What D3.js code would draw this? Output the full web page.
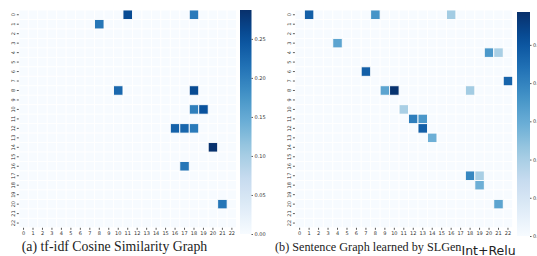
<!DOCTYPE html>
<html>
<head>
<meta charset="utf-8">
<script src="https://cdn.jsdelivr.net/npm/d3@7"></script>
<style>
  body { margin: 0; background: #fff; }
  svg { display: block; }
  .tick-label { font-family: "DejaVu Sans", sans-serif; font-size: 5px; fill: #333; }
  .caption { font-family: "Liberation Serif", serif; fill: #222; }
</style>
</head>
<body>
<div id="chart"></div>
<script>
// sentence indices 0..22 on both axes
const sentences = d3.range(23)

// [row, col, value] of the non-zero cells
const tfidfCells = [
  [0, 11, 0.258], [0, 18, 0.205], [1, 8, 0.21],
  [8, 10, 0.225], [8, 18, 0.258],
  [10, 18, 0.2], [10, 19, 0.25],
  [12, 16, 0.232], [12, 17, 0.228], [12, 18, 0.205],
  [14, 20, 0.285], [16, 17, 0.21], [20, 21, 0.21]
]
const slgenCells = [
  [0, 1, 0.48], [0, 8, 0.36], [0, 16, 0.21],
  [3, 4, 0.32], [4, 20, 0.35], [4, 21, 0.2],
  [6, 7, 0.48], [7, 22, 0.47],
  [8, 9, 0.32], [8, 10, 0.58], [8, 18, 0.21],
  [10, 11, 0.2], [11, 12, 0.41], [11, 13, 0.35],
  [12, 13, 0.48], [13, 14, 0.29],
  [17, 18, 0.39], [17, 19, 0.2], [18, 19, 0.29], [20, 21, 0.32]
]

const tfidfMax = 0.287
const slgenMax = 0.586
const tfidfTicks = [0, 0.05, 0.10, 0.15, 0.20, 0.25]
const slgenTicks = [0, 0.1, 0.2, 0.3, 0.4, 0.5]

// matplotlib "Blues"
const blues = ['#f7fbff', '#deebf7', '#c6dbef', '#9ecae1', '#6baed6', '#4292c6', '#2171b5', '#08519c', '#08306b']

const width = 537
const height = 256

const svg = d3.select('#chart').append('svg')
  .attr('width', width)
  .attr('height', height)

const defs = svg.append('defs')

function makeHeatmap(cells, maxVal, ticks, tickFmt, opts) {
  const color = d3.scaleLinear()
    .domain(d3.range(blues.length).map(i => i / (blues.length - 1) * maxVal))
    .range(blues)
    .clamp(true)

  const x = d3.scaleBand().domain(sentences).range([opts.left, opts.left + 23 * opts.cell])
  const y = d3.scaleBand().domain(sentences).range([opts.top, opts.top + 23 * opts.cell])

  // full matrix, zeros everywhere except the cells listed
  const lookup = new Map(cells.map(c => [c[0] + ',' + c[1], c[2]]))
  const matrix = []
  sentences.forEach(r => sentences.forEach(c => {
    matrix.push({ row: r, col: c, value: lookup.get(r + ',' + c) || 0 })
  }))

  const g = svg.append('g')

  g.selectAll('rect.cell')
    .data(matrix).enter()
    .append('rect')
      .attr('class', 'cell')
      .attr('x', d => x(d.col))
      .attr('y', d => y(d.row))
      .attr('width', x.bandwidth())
      .attr('height', y.bandwidth())
      .attr('fill', d => color(d.value))
      .attr('stroke', '#fff')
      .attr('stroke-width', 0.9)

  // bring coloured cells to the top so their borders aren't covered
  g.selectAll('rect.cell').filter(d => d.value > 0).raise()

  const xAxis = d3.axisBottom(x).tickSize(2).tickPadding(1.5)
  g.append('g')
    .attr('transform', `translate(0, ${opts.top + 23 * opts.cell})`)
    .call(xAxis)
    .call(a => a.select('.domain').remove())
    .call(a => a.selectAll('line').attr('stroke', '#333').attr('stroke-width', 0.8))
    .call(a => a.selectAll('text').attr('class', 'tick-label').attr('font-size', null).attr('font-family', null).attr('fill', null))

  const yAxis = d3.axisLeft(y).tickSize(2).tickPadding(1.5)
  g.append('g')
    .attr('transform', `translate(${opts.left}, 0)`)
    .call(yAxis)
    .call(a => a.select('.domain').remove())
    .call(a => a.selectAll('line').attr('stroke', '#333').attr('stroke-width', 0.8))
    .call(a => a.selectAll('text')
      .attr('class', 'tick-label').attr('font-size', null).attr('font-family', null).attr('fill', null)
      .attr('x', null).attr('dy', null)
      .attr('text-anchor', 'middle')
      .attr('transform', 'translate(-5.5, 0) rotate(-90)')
      .attr('dy', '0.35em'))

  // colour bar
  const gid = 'grad' + opts.id
  const grad = defs.append('linearGradient')
    .attr('id', gid)
    .attr('x1', 0).attr('y1', 1).attr('x2', 0).attr('y2', 0)
  d3.range(0, 1.0001, 0.05).forEach(t => {
    grad.append('stop').attr('offset', t).attr('stop-color', color(t * maxVal))
  })

  const cbScale = d3.scaleLinear().domain([0, maxVal]).range([opts.cbBottom, opts.cbTop])
  g.append('rect')
    .attr('x', opts.cbLeft)
    .attr('y', opts.cbTop)
    .attr('width', opts.cbWidth)
    .attr('height', opts.cbBottom - opts.cbTop)
    .attr('fill', `url(#${gid})`)

  const cbAxis = d3.axisRight(cbScale).tickValues(ticks).tickFormat(tickFmt).tickSize(1.5).tickPadding(1.5)
  g.append('g')
    .attr('transform', `translate(${opts.cbLeft + opts.cbWidth}, 0)`)
    .call(cbAxis)
    .call(a => a.select('.domain').remove())
    .call(a => a.selectAll('line').attr('stroke', '#333').attr('stroke-width', 0.8))
    .call(a => a.selectAll('text').attr('class', 'tick-label').attr('font-size', null).attr('font-family', null).attr('fill', null))
}

makeHeatmap(tfidfCells, tfidfMax, tfidfTicks, d3.format('.2f'), {
  id: 'a', left: 18.8, top: 10, cell: 9.47,
  cbLeft: 240, cbWidth: 11.5, cbTop: 10, cbBottom: 234
})

makeHeatmap(slgenCells, slgenMax, slgenTicks, d3.format('.1f'), {
  id: 'b', left: 294.9, top: 10, cell: 9.47,
  cbLeft: 517, cbWidth: 13, cbTop: 12, cbBottom: 236
})

// captions
svg.append('text')
  .attr('class', 'caption')
  .attr('font-size', 13.8)
  .attr('x', 114.5)
  .attr('y', 251)
  .attr('text-anchor', 'middle')
  .text('(a) tf-idf Cosine Similarity Graph')

const capB = svg.append('text')
  .attr('class', 'caption')
  .attr('font-size', 12.2)
  .attr('x', 275)
  .attr('y', 251)
capB.append('tspan').text('(b) Sentence Graph learned by SLGen')
capB.append('tspan')
  .attr('dy', 3.5)
  .attr('font-family', '"DejaVu Sans", sans-serif')
  .attr('font-size', 12.5)
  .text('Int+Relu')
</script>
</body>
</html>
